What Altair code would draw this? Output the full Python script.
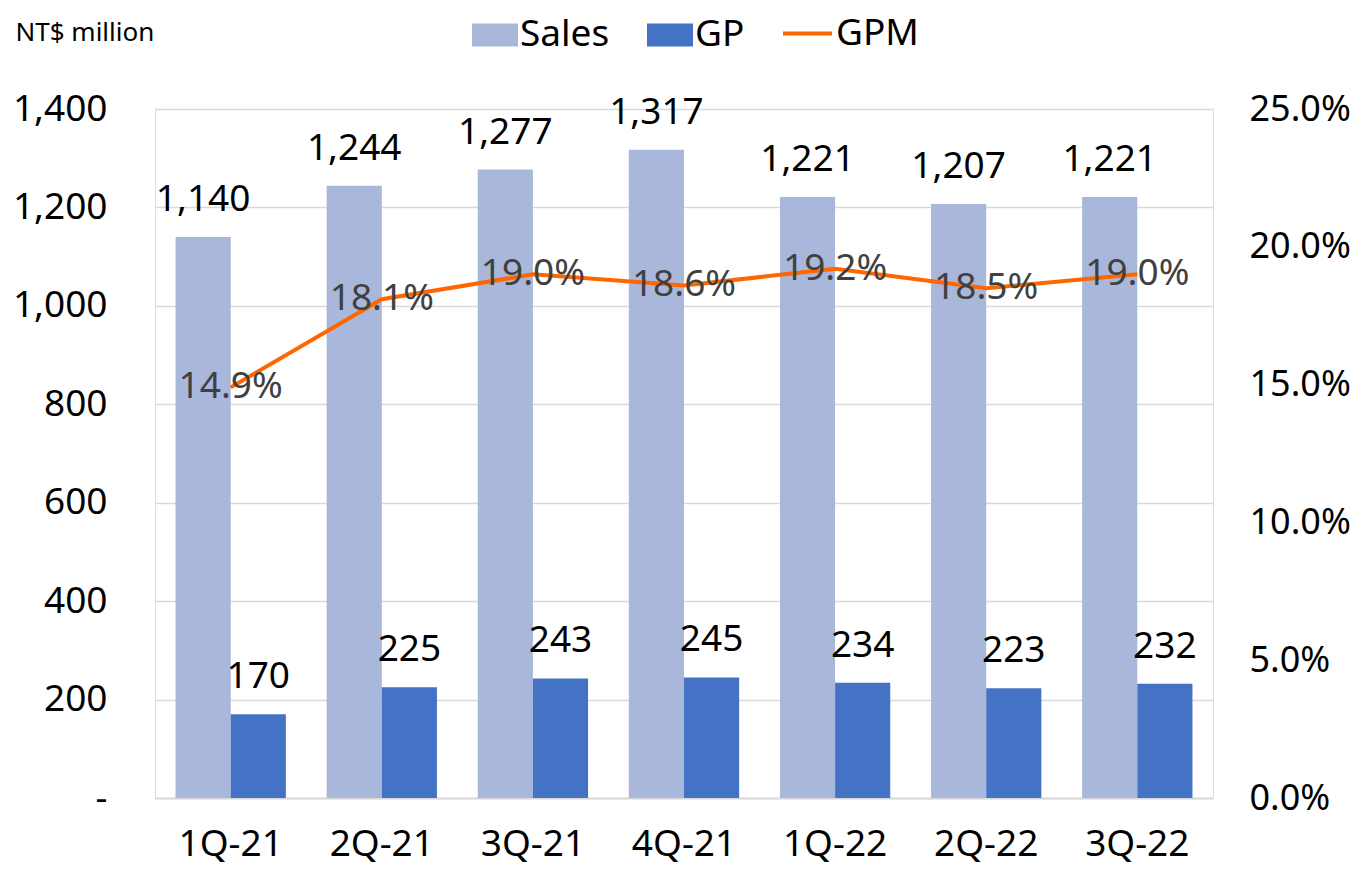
import altair as alt
import pandas as pd

quarters = ["1Q-21", "2Q-21", "3Q-21", "4Q-21", "1Q-22", "2Q-22", "3Q-22"]
sales = [1140, 1244, 1277, 1317, 1221, 1207, 1221]
gp = [170, 225, 243, 245, 234, 223, 232]
gpm = [0.149, 0.181, 0.190, 0.186, 0.192, 0.185, 0.190]
series_names = ["Sales", "GP"]
left_ticks = [0, 200, 400, 600, 800, 1000, 1200, 1400]
right_ticks = [0.0, 0.05, 0.10, 0.15, 0.20, 0.25]

FONT = "Noto Sans"
FS = 37

long_rows = []
for q, s, g in zip(quarters, sales, gp):
    long_rows.append({"quarter": q, "series": "Sales", "value": s})
    long_rows.append({"quarter": q, "series": "GP", "value": g})
long_df = pd.DataFrame(long_rows)
line_df = pd.DataFrame({"quarter": quarters, "gpm": gpm, "series": ["GPM"] * len(quarters)})

x_enc = alt.X(
    "quarter:N",
    sort=quarters,
    scale=alt.Scale(paddingInner=0.27, paddingOuter=0.136),
    axis=alt.Axis(
        title=None, labelAngle=0, labelFontSize=FS, labelFont=FONT, labelColor="#000000",
        labelPadding=28, ticks=False, domainColor="#d9d9d9", domainWidth=2, grid=False,
    ),
)
x_off = alt.XOffset("series:N", sort=series_names, scale=alt.Scale(paddingInner=0, paddingOuter=0))

y_left = alt.Y(
    "value:Q",
    scale=alt.Scale(domain=[0, 1400]),
    axis=alt.Axis(
        title="NT$ million", titleAngle=0, titleAlign="left", titleBaseline="alphabetic",
        titleX=-140, titleY=-69, titleFontSize=26, titleFont=FONT, titleFontWeight="normal",
        titleColor="#000000",
        values=left_ticks, labelExpr="datum.value == 0 ? '-\u00a0\u00a0' : format(datum.value, ',')",
        labelFontSize=FS, labelFont=FONT, labelColor="#000000", labelPadding=48,
        ticks=False, domain=False, grid=True, gridColor="#d9d9d9", gridWidth=1.5,
    ),
)

bars = alt.Chart(long_df).mark_bar().encode(
    x=x_enc,
    xOffset=x_off,
    y=y_left,
    color=alt.Color(
        "series:N",
        scale=alt.Scale(domain=series_names, range=["#A9B7DB", "#4472C4"]),
        legend=alt.Legend(
            title=None, orient="none", legendX=317, legendY=-97, direction="horizontal",
            symbolType="M-1,-0.5H1V0.5H-1Z", symbolSize=2116, symbolStrokeWidth=0,
            labelFontSize=FS, labelFont=FONT, labelColor="#000000", labelOffset=2,
            columnPadding=37,
        ),
    ),
)
bar_text = alt.Chart(long_df).mark_text(
    dy=-26, baseline="alphabetic", fontSize=FS, font=FONT, color="#000000"
).encode(
    x=x_enc,
    xOffset=x_off,
    y=y_left,
    text=alt.Text("value:Q", format=","),
)

y_right = alt.Y(
    "gpm:Q",
    scale=alt.Scale(domain=[0, 0.25]),
    axis=alt.Axis(
        title=None, orient="right", values=right_ticks, format=".1%",
        labelFontSize=36, labelFont=FONT, labelColor="#000000", labelPadding=36,
        ticks=False, domain=False, grid=False,
    ),
)

line = alt.Chart(line_df).mark_line(strokeWidth=4).encode(
    x=x_enc,
    y=y_right,
    stroke=alt.Stroke(
        "series:N",
        scale=alt.Scale(domain=["GPM"], range=["#FF6600"]),
        legend=alt.Legend(
            title=None, orient="none", legendX=626, legendY=-102, direction="horizontal",
            symbolType="stroke", symbolSize=2401, symbolStrokeWidth=4,
            labelFontSize=FS, labelFont=FONT, labelColor="#000000", labelOffset=2,
        ),
    ),
)
line_text = alt.Chart(line_df).mark_text(
    baseline="middle", align="center", fontSize=FS, font=FONT, color="#404040"
).encode(
    x=x_enc,
    y=y_right,
    text=alt.Text("gpm:Q", format=".1%"),
)

left = alt.layer(bars, bar_text)
right = alt.layer(line, line_text)

chart = alt.layer(left, right).resolve_scale(y="independent").properties(
    width=1058,
    height=689,
    autosize=alt.AutoSizeParams(type="none"),
    padding={"left": 147, "top": 101, "right": 142, "bottom": 66},
).configure_view(strokeWidth=0).configure(font=FONT)

chart.save("out.html", embed_options={"renderer": "svg", "actions": False})
